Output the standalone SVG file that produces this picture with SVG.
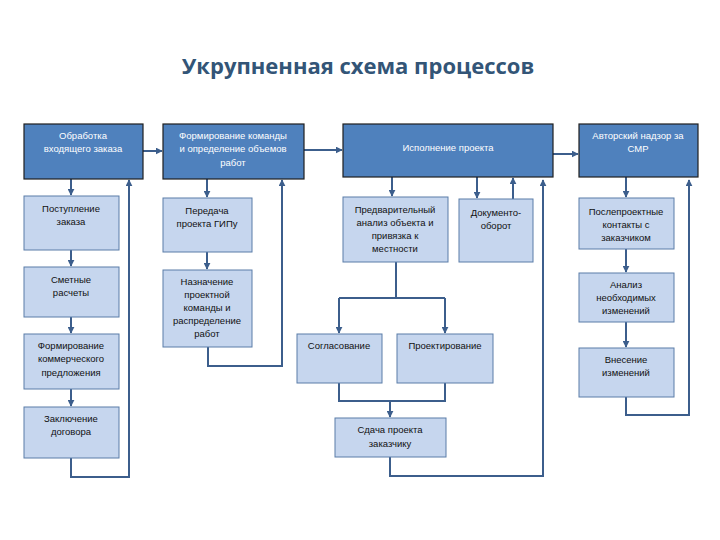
<svg xmlns="http://www.w3.org/2000/svg" width="720" height="540" viewBox="0 0 720 540">
<style>
.dark{fill:#4F81BD;stroke:#1F1F1F;stroke-width:1.2}
.light{fill:#C6D6EE;stroke:#5A7DA8;stroke-width:1}
.tw{font-family:"Liberation Sans",Arial,sans-serif;font-size:9.5px;fill:#FFFFFF;text-anchor:middle}
.tb{font-family:"Liberation Sans",Arial,sans-serif;font-size:9.5px;fill:#111111;text-anchor:middle}
.ln{fill:none;stroke:#3C5E8C;stroke-width:2}
.la{fill:none;stroke:#3C5E8C;stroke-width:2;marker-end:url(#ah)}
.title{font-family:"Open Sans","Liberation Sans",sans-serif;font-size:22px;font-weight:bold;fill:#335577;text-anchor:middle}
</style>
<defs>
<marker id="ah" viewBox="0 0 10 10" refX="9" refY="5" markerWidth="3.5" markerHeight="3.5" orient="auto" markerUnits="strokeWidth">
<path d="M0,0 L10,5 L0,10 z" fill="#3C5E8C"/>
</marker>
</defs>
<rect width="720" height="540" fill="#FFFFFF"/>
<text class="title" x="358" y="74">Укрупненная схема процессов</text>

<g id="connectors">
<path class="la" d="M143,151 L162,151"/>
<path class="la" d="M304,150 L342,150"/>
<path class="la" d="M553,154 L578,154"/>
<path class="la" d="M71,179 L71,195"/>
<path class="la" d="M71,250 L71,266"/>
<path class="la" d="M71,317 L71,333"/>
<path class="la" d="M71,389 L71,406"/>
<path class="la" d="M71,458 L71,477 L129,477 L129,180"/>
<path class="la" d="M207,179 L207,197"/>
<path class="la" d="M207,252 L207,269"/>
<path class="la" d="M208,347 L208,366 L282,366 L282,180"/>
<path class="la" d="M392,177 L392,196"/>
<path class="la" d="M477,177 L477,198"/>
<path class="la" d="M513,199 L513,178"/>
<path class="ln" d="M396,262 L396,298 M339,298 L445,298"/>
<path class="la" d="M339,298 L339,333"/>
<path class="la" d="M445,298 L445,333"/>
<path class="ln" d="M339,383 L339,401 L445,401 L445,383"/>
<path class="la" d="M390,401 L390,417"/>
<path class="la" d="M390,457 L390,476 L543,476 L543,180"/>
<path class="la" d="M626,177 L626,197"/>
<path class="la" d="M626,249 L626,272"/>
<path class="la" d="M626,322 L626,347"/>
<path class="la" d="M626,397 L626,415 L689,415 L689,180"/>
</g>

<g id="n-obrabotka"><rect class="dark" x="24" y="124" width="119" height="55"/>
<text class="tw" x="83" y="139">Обработка</text><text class="tw" x="83" y="152">входящего заказа</text></g>
<g id="n-formirovanie"><rect class="dark" x="163" y="124" width="141" height="55"/>
<text class="tw" x="233" y="139">Формирование команды</text><text class="tw" x="233" y="152">и определение объемов</text><text class="tw" x="233" y="166">работ</text></g>
<g id="n-ispolnenie"><rect class="dark" x="343" y="124" width="210" height="53"/>
<text class="tw" x="448" y="151">Исполнение проекта</text></g>
<g id="n-avtorskiy"><rect class="dark" x="579" y="124" width="119" height="53"/>
<text class="tw" x="638" y="139">Авторский надзор за</text><text class="tw" x="638" y="152">СМР</text></g>

<g id="n-postuplenie"><rect class="light" x="24" y="196" width="95" height="54"/>
<text class="tb" x="71" y="212">Поступление</text><text class="tb" x="71" y="225">заказа</text></g>
<g id="n-smetnye"><rect class="light" x="24" y="267" width="95" height="50"/>
<text class="tb" x="71" y="283">Сметные</text><text class="tb" x="71" y="296">расчеты</text></g>
<g id="n-kommercheskoe"><rect class="light" x="24" y="334" width="95" height="55"/>
<text class="tb" x="71" y="349">Формирование</text><text class="tb" x="71" y="362">коммерческого</text><text class="tb" x="71" y="376">предложения</text></g>
<g id="n-zaklyuchenie"><rect class="light" x="24" y="407" width="95" height="51"/>
<text class="tb" x="71" y="422">Заключение</text><text class="tb" x="71" y="435">договора</text></g>

<g id="n-peredacha"><rect class="light" x="163" y="198" width="89" height="54"/>
<text class="tb" x="207" y="214">Передача</text><text class="tb" x="207" y="227">проекта ГИПу</text></g>
<g id="n-naznachenie"><rect class="light" x="163" y="270" width="89" height="77"/>
<text class="tb" x="207" y="285">Назначение</text><text class="tb" x="207" y="298">проектной</text><text class="tb" x="207" y="311">команды и</text><text class="tb" x="207" y="324">распределение</text><text class="tb" x="207" y="337">работ</text></g>

<g id="n-predvaritelny"><rect class="light" x="343" y="197" width="105" height="65"/>
<text class="tb" x="395" y="213">Предварительный</text><text class="tb" x="395" y="226">анализ объекта и</text><text class="tb" x="395" y="239">привязка к</text><text class="tb" x="395" y="252">местности</text></g>
<g id="n-dokumentooborot"><rect class="light" x="459" y="199" width="74" height="63"/>
<text class="tb" x="496" y="216">Документо-</text><text class="tb" x="496" y="229">оборот</text></g>
<g id="n-soglasovanie"><rect class="light" x="297" y="334" width="85" height="49"/>
<text class="tb" x="339" y="349">Согласование</text></g>
<g id="n-proektirovanie"><rect class="light" x="397" y="334" width="96" height="49"/>
<text class="tb" x="445" y="349">Проектирование</text></g>
<g id="n-sdacha"><rect class="light" x="335" y="418" width="111" height="39"/>
<text class="tb" x="390" y="433">Сдача проекта</text><text class="tb" x="390" y="447">заказчику</text></g>

<g id="n-posleproektnye"><rect class="light" x="579" y="198" width="95" height="51"/>
<text class="tb" x="626" y="215">Послепроектные</text><text class="tb" x="626" y="228">контакты с</text><text class="tb" x="626" y="241">заказчиком</text></g>
<g id="n-analiz"><rect class="light" x="579" y="273" width="95" height="49"/>
<text class="tb" x="626" y="288">Анализ</text><text class="tb" x="626" y="301">необходимых</text><text class="tb" x="626" y="314">изменений</text></g>
<g id="n-vnesenie"><rect class="light" x="579" y="348" width="95" height="49"/>
<text class="tb" x="626" y="363">Внесение</text><text class="tb" x="626" y="376">изменений</text></g>
</svg>
